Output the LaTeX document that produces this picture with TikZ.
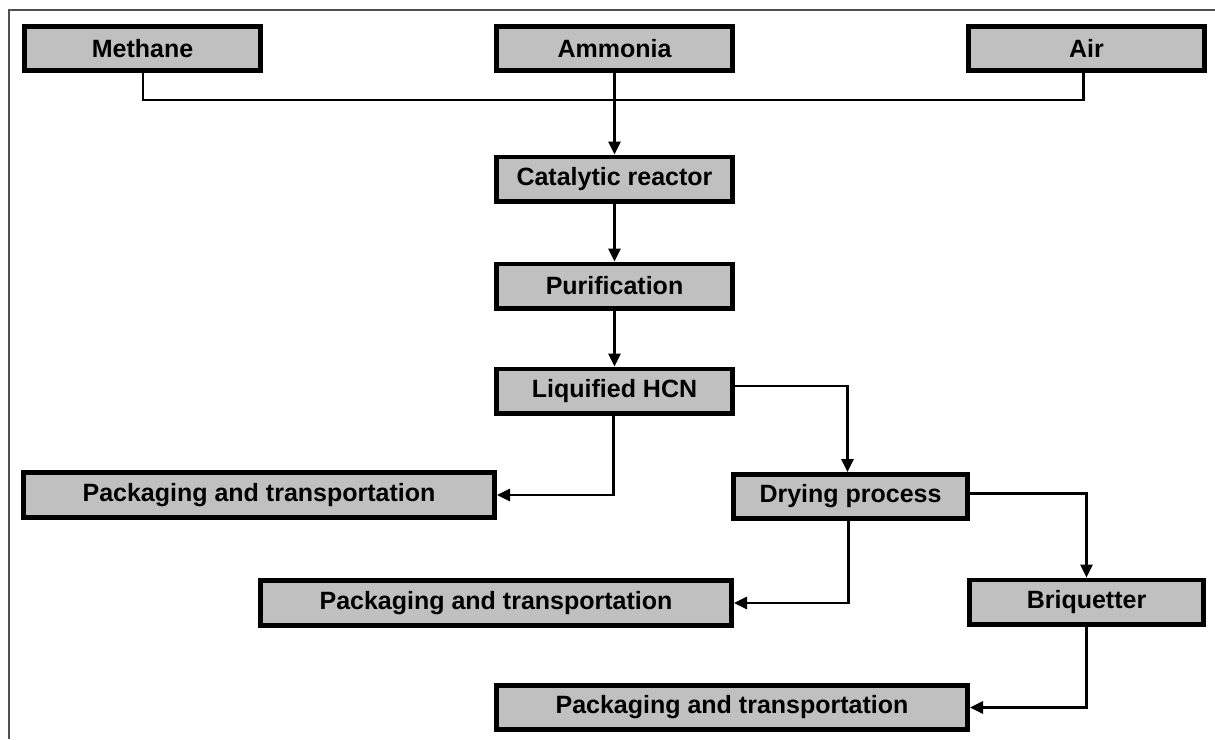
\documentclass[tikz,border=0pt]{standalone}
\usepackage{fontspec}
\setmainfont{Liberation Sans}
\usetikzlibrary{arrows.meta,calc}
\definecolor{boxgray}{HTML}{C0C0C0}
\definecolor{framegray}{HTML}{505050}
\tikzset{
  flowbox/.style={draw=black, line width=4.6pt, fill=boxgray, inner sep=0pt,
    font=\fontsize{25}{30}\selectfont\bfseries, text=black},
  shortbox/.style={flowbox, minimum width=236.4pt, minimum height=44.4pt},
  longbox/.style={flowbox, minimum width=471.4pt, minimum height=45.4pt},
  link/.style={draw=black, line width=2.8pt},
  flowarrow/.style={link, -{Triangle[length=13pt,width=12pt]}},
}
\begin{document}
\begin{tikzpicture}[x=1pt,y=-1pt]
\useasboundingbox (0,0) rectangle (1215,739);
% partial frame (top and left only)
\draw[framegray, line width=2pt] (9,739) -- (9,10) -- (1215,10);

\node[shortbox] (meth) at (142.5,48.5) {Methane};
\node[shortbox] (ammo) at (614.5,48.5) {Ammonia};
\node[shortbox] (air)  at (1086.5,48.5) {Air};
\node[shortbox] (cat)  at (614.5,179) {Catalytic reactor};
\node[shortbox] (pur)  at (614.5,286) {Purification};
\node[shortbox] (liq)  at (614.5,391) {Liquified HCN};
\node[longbox]  (packA) at (259,495) {Packaging and transportation};
\node[shortbox, minimum width=234.4pt] (dry) at (850.5,496.5) {Drying process};
\node[longbox]  (packB) at (496,603) {Packaging and transportation};
\node[shortbox, minimum width=234.4pt] (briq) at (1086.5,602) {Briquetter};
\node[longbox, minimum height=44.4pt]  (packC) at (732,707.5) {Packaging and transportation};

\coordinate (feedL) at (143,100);
\draw[link] (meth.south -| feedL) -- (feedL) -| ([xshift=-3pt]air.south);
\draw[flowarrow] (ammo.south) -- (cat.north);
\draw[flowarrow] (cat.south) -- (pur.north);
\draw[flowarrow] (pur.south) -- (liq.north);
\draw[flowarrow] ([yshift=5pt]liq.east) -| ([xshift=-3pt]dry.north);
\draw[flowarrow] ([xshift=-1pt]liq.south) |- (packA.east);
\draw[flowarrow] ([yshift=3pt]dry.east) -| (briq.north);
\draw[flowarrow] ([xshift=-2pt]dry.south) |- (packB.east);
\draw[flowarrow] (briq.south) |- (packC.east);
\end{tikzpicture}
\end{document}
